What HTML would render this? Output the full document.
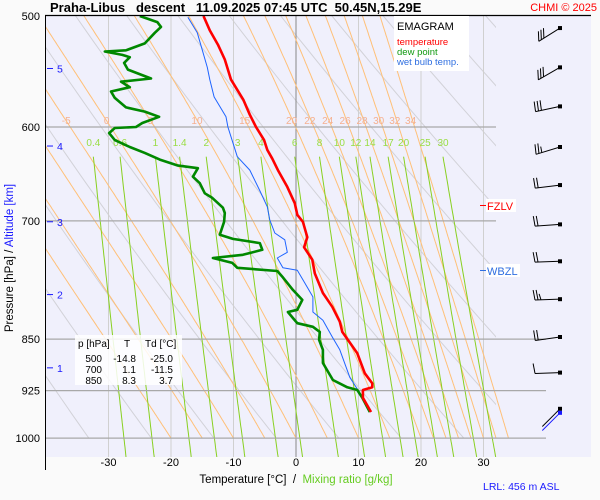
<!DOCTYPE html>
<html><head><meta charset="utf-8">
<style>
html,body{margin:0;padding:0;background:#fafafa;}
svg{display:block;font-family:"Liberation Sans",sans-serif;}
</style></head>
<body>
<svg id="chart" width="600" height="500" viewBox="0 0 600 500">
<defs>
<clipPath id="plotClip"><rect x="46" y="15" width="545" height="442"/></clipPath>
<clipPath id="dryClip"><rect x="46" y="15" width="450" height="423"/></clipPath>
<clipPath id="moistClip"><rect x="46" y="15" width="545" height="423"/></clipPath>
</defs>
<rect x="0" y="0" width="600" height="500" fill="#fafafa"/>
<rect x="46" y="15" width="545" height="442" fill="#f0f0fc"/>
<g id="bgLines"></g>
<g id="series" clip-path="url(#plotClip)"></g>
<g id="barbs"></g>
<g id="axes"></g>

<text x="50" y="12" font-size="13" font-weight="bold" fill="#000" xml:space="preserve">Praha-Libus   descent   11.09.2025 07:45 UTC  50.45N,15.29E</text>
<text x="597" y="11" font-size="11" fill="#ff0000" text-anchor="end">CHMI © 2025</text>

<g>
<rect x="394" y="16" width="75" height="55" fill="#ffffff"/>
<text x="397" y="30" font-size="11" fill="#000">EMAGRAM</text>
<text x="397" y="45" font-size="9.5" fill="#ff0000">temperature</text>
<text x="397" y="55" font-size="9.5" fill="#119911">dew point</text>
<text x="397" y="65" font-size="9.5" fill="#2e6ee0">wet bulb temp.</text>
</g>

<g font-size="10" fill="#000">
<rect x="75" y="335" width="107" height="50" fill="#ffffff" opacity="0.85"/>
<text x="78" y="347">p [hPa]</text>
<text x="124" y="347">T</text>
<text x="145" y="347">Td [°C]</text>
<text x="102" y="362" text-anchor="end">500</text>
<text x="136" y="362" text-anchor="end">-14.8</text>
<text x="173" y="362" text-anchor="end">-25.0</text>
<text x="102" y="373" text-anchor="end">700</text>
<text x="136" y="373" text-anchor="end">1.1</text>
<text x="173" y="373" text-anchor="end">-11.5</text>
<text x="102" y="384" text-anchor="end">850</text>
<text x="136" y="384" text-anchor="end">8.3</text>
<text x="173" y="384" text-anchor="end">3.7</text>
</g>

<g>
<rect x="486" y="199" width="30" height="13" fill="#ffffff"/>
<line x1="480" y1="205.5" x2="486" y2="205.5" stroke="#ff0000" stroke-width="1"/>
<text x="487" y="210" font-size="11" fill="#ff0000">FZLV</text>
</g>
<g>
<rect x="486" y="264" width="34" height="13" fill="#ffffff"/>
<line x1="480" y1="270.5" x2="486" y2="270.5" stroke="#2e6ee0" stroke-width="1"/>
<text x="487" y="275" font-size="11" fill="#2e6ee0">WBZL</text>
</g>

<text transform="translate(13,258) rotate(-90)" font-size="11.5" text-anchor="middle"><tspan fill="#000">Pressure [hPa]  /  </tspan><tspan fill="#1a1aff">Altitude [km]</tspan></text>
<text x="296" y="483" font-size="11.5" text-anchor="middle" xml:space="preserve"><tspan fill="#000">Temperature [°C]  /  </tspan><tspan fill="#66cc22">Mixing ratio [g/kg]</tspan></text>
<text x="483" y="490" font-size="10.5" fill="#1a1aff">LRL: 456 m ASL</text>
</svg>

<script>
// ---- data ----
var tempP = [500,512,524,537,555,574,588,600,613,623,632,644,662,680,693,701,719,731,746,763,788,806,826,840,851,870,899,914,920,924,936,958];
var tempT = [-14.8,-13.8,-12.5,-11.4,-10.4,-8.4,-7.4,-6.4,-5.1,-4.6,-3.8,-2.9,-1.4,-0.2,0.2,1.1,1.8,1.3,2.6,3.0,4.3,5.8,7.0,7.4,8.3,9.8,11.0,12.2,12.2,10.7,10.7,12.0];
var dewP = [500,505,509,514,523,529,530,533,535,540,546,554,557,562,566,572,581,585,590,596,600,601,606,613,620,626,633,639,642,651,658,669,674,685,691,701,716,721,726,734,740,744,750,756,760,768,784,797,810,813,821,828,833,840,851,865,884,909,920,924,936,958];
var dewT = [-25.0,-22.2,-21.6,-22.6,-24.2,-27.2,-30.6,-27.8,-26.6,-27.5,-26.9,-23.2,-28.0,-26.6,-29.6,-29.0,-27.2,-24.2,-21.9,-24.6,-25.6,-29.0,-29.9,-29.0,-26.6,-24.2,-21.8,-19.0,-15.7,-16.5,-15.4,-14.6,-13.4,-11.7,-11.4,-11.5,-12.2,-10.1,-5.8,-5.4,-8.5,-13.3,-10.2,-9.4,-3.0,-2.1,-0.5,1.0,0.2,-1.3,-0.5,0.2,2.7,3.8,3.7,4.3,4.3,5.9,8.2,9.8,10.6,11.8];
var wetP = [501,514,544,555,571,590,600,630,644,666,684,699,714,722,737,744,756,759,771,793,813,824,847,865,905,924,936,958];
var wetT = [-17.3,-15.8,-14.2,-13.8,-13.1,-11.2,-10.9,-9.4,-7.4,-5.8,-4.6,-4.2,-3.4,-1.8,-1.4,-3.0,-2.1,0.2,1.1,2.7,2.7,4.3,5.8,7.0,8.6,9.9,10.6,12.0];
var pressureTicks = [500,600,700,850,925,1000];
var tempTicks = [-30,-20,-10,0,10,20,30];
var altitudeKm = [1,2,3,4,5];
var altitudeP = [891,790,701,619,545];
var mixRatios = [0.4,0.6,1,1.4,2,3,4,6,8,10,12,14,17,20,25,30];
var moistThetaW = [-20,-15,-10,-5,0,5,10,15,20,22,24,26,28,30,32,34];
var moistLabeled = [-5,0,5,10,15,20,22,24,26,28,30,32,34];
var dryTheta = [240,250,260,270,280,290,300,310,320,330,340,350,360,370,380,390,400,410];
var windP = [510,544,580,620,660,704,748,796,847,898,953];
var windDir = [238,240,258,253,263,266,268,268,262,268,225];
var windFeathers = [3,3,3,2.5,2,2,2,2.5,2,1,0];

// ---- scales ----
function xT(T){ return 296 + 6.25*T; }
function yP(p){ return 16 + 609*Math.log(p/500); }
var NS = "http://www.w3.org/2000/svg";
function mk(tag, attrs, parent){
  var e = document.createElementNS(NS, tag);
  for (var k in attrs) e.setAttribute(k, attrs[k]);
  parent.appendChild(e); return e;
}
var bg = document.getElementById('bgLines');
var ser = document.getElementById('series');
var ax = document.getElementById('axes');
var barbs = document.getElementById('barbs');

// dry adiabats
var gDry = mk('g', {'clip-path':'url(#dryClip)'}, bg);


dryTheta.forEach(function(th){
  var pts = [];
  for (var p = 1000; p >= 480; p -= 10){
    var T = th*Math.pow(p/1000, 0.2857) - 273.15;
    pts.push(xT(T).toFixed(1)+','+yP(p).toFixed(1));
  }
  var l = mk('polyline', {points:pts.join(' '), fill:'none', stroke:'#d2d2d8', 'stroke-width':1}, gDry);
  
  
});

// isotherms
for (var T = -30; T <= 30; T += 10){
  var l = mk('line', {x1:xT(T), x2:xT(T), y1:15, y2:457, stroke: T===0 ? '#888888' : '#d0d0d0', 'stroke-width':1}, bg);
  
  
}

// moist adiabats
function es(Tc){ return 6.112*Math.exp(17.67*Tc/(Tc+243.5)); }
var gMoist = mk('g', {'clip-path':'url(#moistClip)'}, bg);


var moistAt600 = {};
moistThetaW.forEach(function(tw){
  var Tk = tw + 273.15, pts = [];
  for (var p = 1000; p >= 480; p -= 2){
    pts.push(xT(Tk-273.15).toFixed(1)+','+yP(p).toFixed(1));
    if (Math.abs(p-600) < 1) moistAt600[tw] = Tk-273.15;
    var e = es(Tk-273.15), rs = 0.622*e/(p-e);
    var dTdp = (287*Tk + 2.501e6*rs) / (p*(1005 + 2.501e6*2.501e6*rs*0.622/(287*Tk*Tk)));
    Tk -= dTdp*2;
  }
  var l = mk('polyline', {points:pts.join(' '), fill:'none', stroke:'#ffc078', 'stroke-width':1}, gMoist);
  
  
});
moistLabeled.forEach(function(tw){
  var t = mk('text', {x:xT(moistAt600[tw]) - 4, y:124, 'font-size':10, fill:'#f5b090', 'text-anchor':'middle'}, bg);
  t.textContent = tw;
  
  
});

// mixing ratio lines
function tdFromW(w, p){
  var e = w*p/(622+w), a = Math.log(e/6.112);
  return 243.5*a/(17.67-a);
}
var gMix = mk('g', {'clip-path':'url(#plotClip)'}, bg);


mixRatios.forEach(function(w){
  var pts = [];
  for (var p = 630; p <= 1035; p += 5){ pts.push(xT(tdFromW(w,p)).toFixed(1)+','+yP(p).toFixed(1)); }
  var l = mk('polyline', {points:pts.join(' '), fill:'none', stroke:'#88d020', 'stroke-width':1}, gMix);
  
  
  var t = mk('text', {x:xT(tdFromW(w,630)), y:146, 'font-size':10, fill:'#99dd44', 'text-anchor':'middle'}, bg);
  t.textContent = w;
  
  
});

// pressure gridlines & labels
pressureTicks.forEach(function(p){
  var y = yP(p);
  if (p !== 500){
    var l = mk('line', {x1:46, x2: p < 800 ? 496 : 546, y1:y, y2:y, stroke:'#a8a8a8', 'stroke-width':1.2}, bg);
    
    
  }
  var t = mk('text', {x:40, y:y+4, 'font-size':11, 'text-anchor':'end', fill:'#000'}, ax);
  t.textContent = p;
  
  
});
tempTicks.forEach(function(T){
  var t = mk('text', {x:xT(T), y:466, 'font-size':11, 'text-anchor':'middle', fill:'#000'}, ax);
  t.textContent = T;
  
  
});
altitudeKm.forEach(function(k, i){
  var y = yP(altitudeP[i]);
  var l = mk('line', {x1:47, x2:53, y1:y, y2:y, stroke:'#1a1aff', 'stroke-width':1}, ax);
  
  
  var t = mk('text', {x:57, y:y+4, 'font-size':10.5, fill:'#1a1aff'}, ax);
  t.textContent = k;
  
  
});
var la = mk('line', {x1:45.5, x2:45.5, y1:15, y2:470, stroke:'#000', 'stroke-width':1}, ax);


var ta = mk('line', {x1:45, x2:591, y1:15.5, y2:15.5, stroke:'#000', 'stroke-width':1.2}, ax);



// series
function drawSeries(P, T, color, w, name){
  var pts = P.map(function(p, i){ return xT(T[i]).toFixed(1)+','+yP(p).toFixed(1); });
  var l = mk('polyline', {points:pts.join(' '), fill:'none', stroke:color, 'stroke-width':w, 'stroke-linejoin':'round'}, ser);
  
  
}
drawSeries(wetP, wetT, '#1e64ff', 1, 'wet-bulb-line');
drawSeries(dewP, dewT, '#008800', 2.6, 'dew-point-line');
drawSeries(tempP, tempT, '#ff0000', 2.6, 'temperature-line');

// wind barbs
windP.forEach(function(p, i){
  var y = yP(p), x = 560, L = 25;
  var az = windDir[i]*Math.PI/180;
  var dx = Math.sin(az)*L, dy = -Math.cos(az)*L;
  var ux = dx/L, uy = dy/L;
  var g = mk('g', {}, barbs);
  
  
  mk('line', {x1:x, y1:y, x2:x+dx, y2:y+dy, stroke:'#000', 'stroke-width':1}, g);
  mk('rect', {x:x-2, y:y-2, width:4, height:4, fill:'#000'}, g);
  var n = windFeathers[i];
  for (var f = 0; f < Math.ceil(n); f++){
    var len = (f === Math.floor(n) && n % 1) ? 6 : 10;
    var bx = x+dx - ux*f*3, by = y+dy - uy*f*3;
    mk('line', {x1:bx, y1:by, x2:bx - 2 + uy*3, y2:by - len, stroke:'#000', 'stroke-width':1}, g);
  }
  if (n === 0){
    mk('line', {x1:x, y1:y+4, x2:x+dx, y2:y+dy+4, stroke:'#1a1aff', 'stroke-width':1}, g);
    mk('rect', {x:x-2, y:y+2, width:4, height:4, fill:'#1a1aff'}, g);
  }
});
</script>
</body></html>
